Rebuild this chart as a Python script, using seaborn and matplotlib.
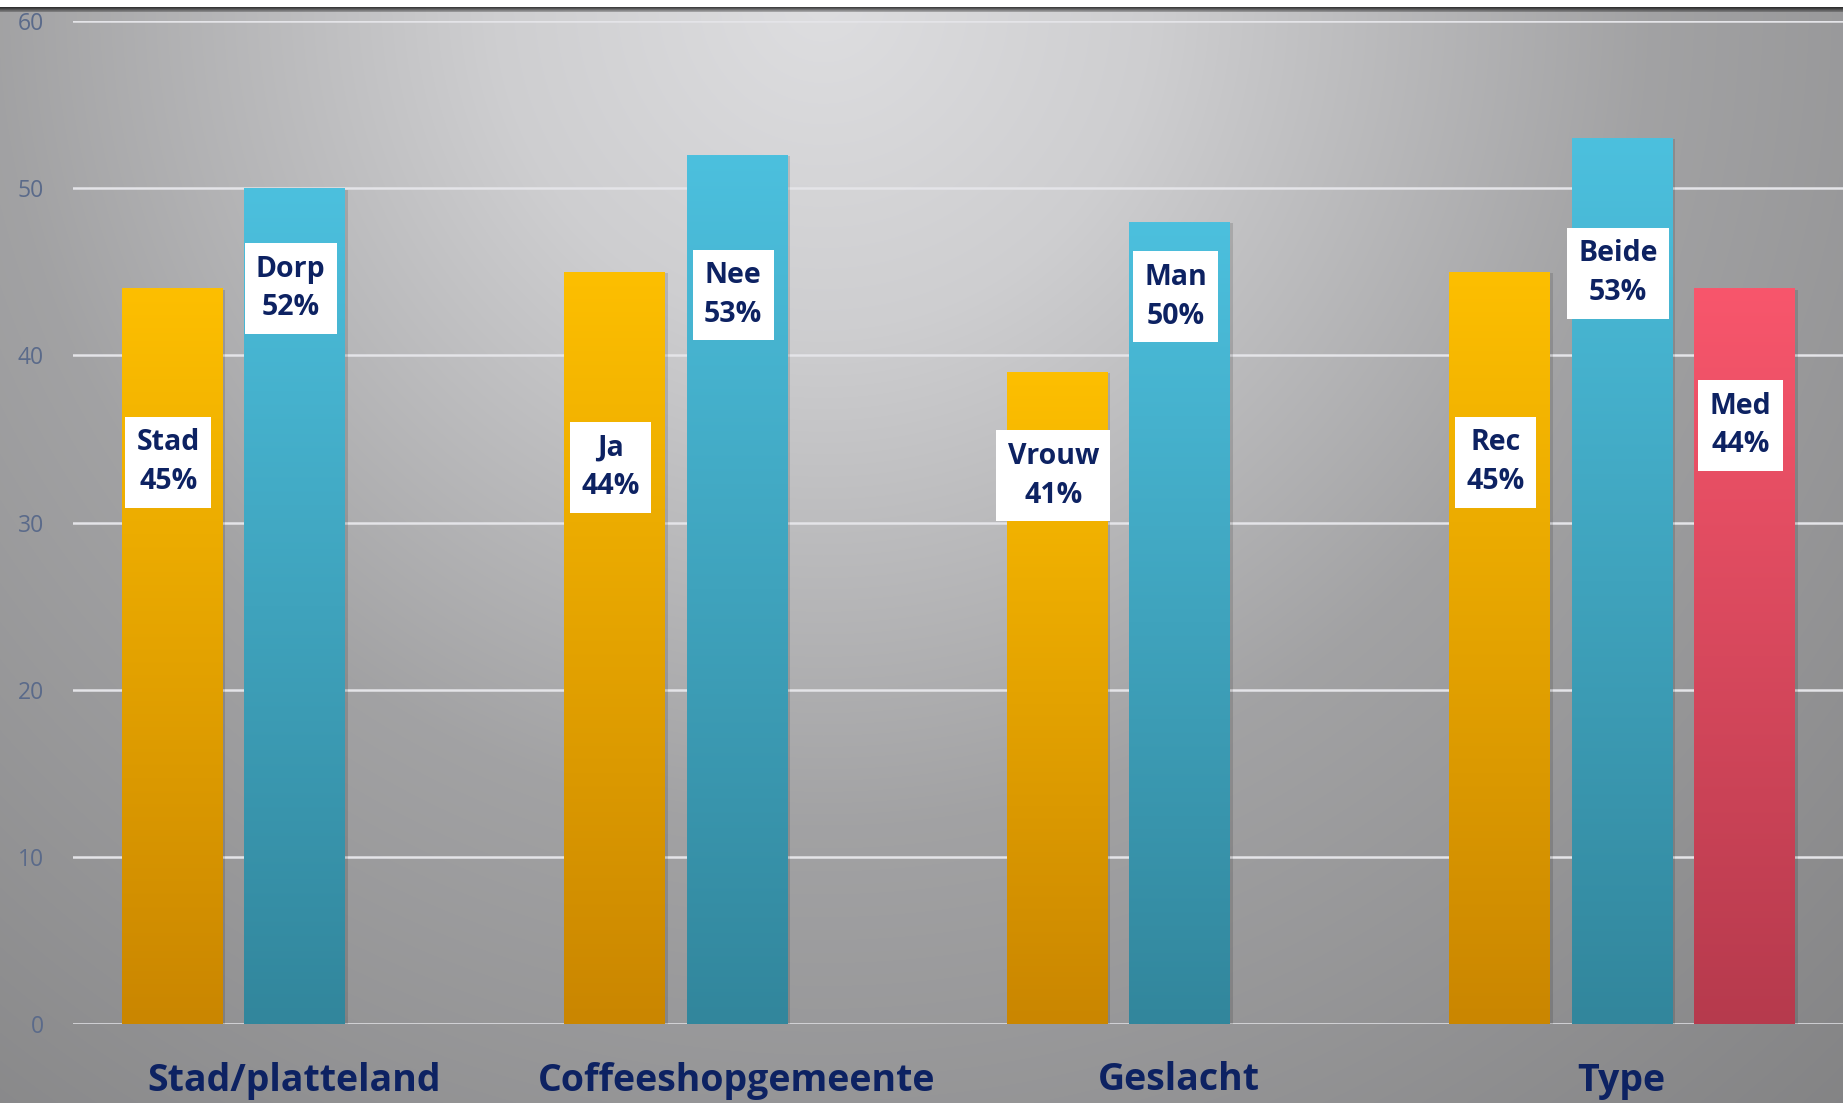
"""Staafdiagram per kenmerk"""

import numpy as np
import pandas as pd
import seaborn as sns
import matplotlib.pyplot as plt
import matplotlib.patheffects as pe

# Data

categorieen = ['Stad/platteland', 'Coffeeshopgemeente', 'Geslacht', 'Type']
reeksen = ['Reeks 1', 'Reeks 2', 'Reeks 3']

waarden_1 = [44, 45, 39, 45]
namen_1 = ['Stad', 'Ja', 'Vrouw', 'Rec']
procent_1 = [45, 44, 41, 45]

waarden_2 = [50, 52, 48, 53]
namen_2 = ['Dorp', 'Nee', 'Man', 'Beide']
procent_2 = [52, 53, 50, 53]

waarden_3 = [44]
namen_3 = ['Med']
procent_3 = [44]
cat_3 = ['Type']

yticks = [0, 10, 20, 30, 40, 50, 60]

# hoogte waar de labels staan (handmatig geplaatst in het origineel)
label_y_1 = [33.6, 33.3, 32.8, 33.6]
label_y_2 = [44.0, 43.6, 43.5, 44.9]
label_y_3 = [35.8]

rows = []
for c, v in zip(categorieen, waarden_1):
    rows.append((c, reeksen[0], v))
for c, v in zip(categorieen, waarden_2):
    rows.append((c, reeksen[1], v))
for c, v in zip(cat_3, waarden_3):
    rows.append((c, reeksen[2], v))
df = pd.DataFrame(rows, columns=['Categorie', 'Reeks', 'Waarde'])

kleuren_top = ['#fdbf00', '#4cc0de', '#f8566c']
kleuren_bodem = ['#ca8600', '#32869c', '#b63a4d']
navy = '#0d2262'

plt.rcParams['font.family'] = ['Open Sans', 'DejaVu Sans']

W, H = 1843, 1103
fig = plt.figure(figsize=(W / 100, H / 100), dpi=100)

# Achtergrond met radiaal verloop

bg = fig.add_axes([0, 0, 1, 1], zorder=-10)
yy, xx = np.mgrid[0:H, 0:W]
d = np.sqrt((xx - 823.0) ** 2 + (yy - 0.0) ** 2) / 1100.0
grijs = np.interp(d, [0, 0.3, 0.75, 1.0, 1.4], [222, 206, 162, 150, 130]) / 255.0
img = np.dstack([grijs, grijs, grijs * 1.01])
img = np.clip(img, 0, 1)
img[0:7] = 1.0
for i, g in enumerate([0.30, 0.40, 0.52, 0.64, 0.74]):
    img[7 + i] = g * img[14]
bg.imshow(img, aspect='auto', interpolation='bilinear')
bg.set_axis_off()

ax = fig.add_axes([73 / W, 79 / H, 1 - 73 / W, 1003 / H])
ax.patch.set_alpha(0)

sns.barplot(data=df, x='Categorie', y='Waarde', hue='Reeks', order=categorieen,
            hue_order=reeksen, palette=kleuren_top, width=0.83, gap=0.18,
            legend=False, ax=ax, saturation=1, linewidth=0)

ax.set_xlim(-0.5, 3.5)
ax.set_ylim(0, 60)
ax.set_yticks(yticks)
ax.grid(axis='y', color='#e4e4e8', linewidth=1.8)
ax.grid(axis='x', visible=False)
ax.set_axisbelow(True)
for s in ax.spines.values():
    s.set_visible(False)
ax.set_xlabel('')
ax.set_ylabel('')
ax.tick_params(axis='y', length=0, pad=21, labelsize=16.5, labelcolor='#5a6a8a')
ax.tick_params(axis='x', length=0, pad=27, labelsize=27, labelcolor=navy)
for t in ax.get_xticklabels():
    t.set_fontweight('bold')

# Verloop in de staven en labels

alle_namen = [namen_1, namen_2, namen_3]
alle_proc = [procent_1, procent_2, procent_3]
alle_ly = [label_y_1, label_y_2, label_y_3]

for k, cont in enumerate(ax.containers):
    grad = np.linspace(0, 1, 256)[:, None]
    top = np.array(plt.matplotlib.colors.to_rgb(kleuren_top[k]))
    bod = np.array(plt.matplotlib.colors.to_rgb(kleuren_bodem[k]))
    cmap_img = (top[None, None, :] * (1 - grad[..., None]) + bod[None, None, :] * grad[..., None])
    for j, bar in enumerate(cont):
        x0, w, h = bar.get_x(), bar.get_width(), bar.get_height()
        if np.isnan(h):
            continue
        bar.set_path_effects([pe.SimplePatchShadow(offset=(2.5, -1), alpha=0.13,
                                                   shadow_rgbFace='k'), pe.Normal()])
        im = ax.imshow(cmap_img, extent=[x0, x0 + w, 0, h], aspect='auto',
                       zorder=bar.get_zorder() + 0.1, interpolation='bilinear')
        im.set_clip_path(bar)
        ax.text(x0 + w / 2 - 0.008, alle_ly[k][j], f'{alle_namen[k][j]}\n{alle_proc[k][j]}%',
                ha='center', va='center', fontsize=20.5, fontweight='bold', color=navy,
                linespacing=1.45, zorder=5,
                bbox=dict(boxstyle='square,pad=0.4', fc='white', ec='none'))

ax.set_xlim(-0.5, 3.5)
ax.set_ylim(0, 60)

plt.savefig('out.png', dpi=100)
